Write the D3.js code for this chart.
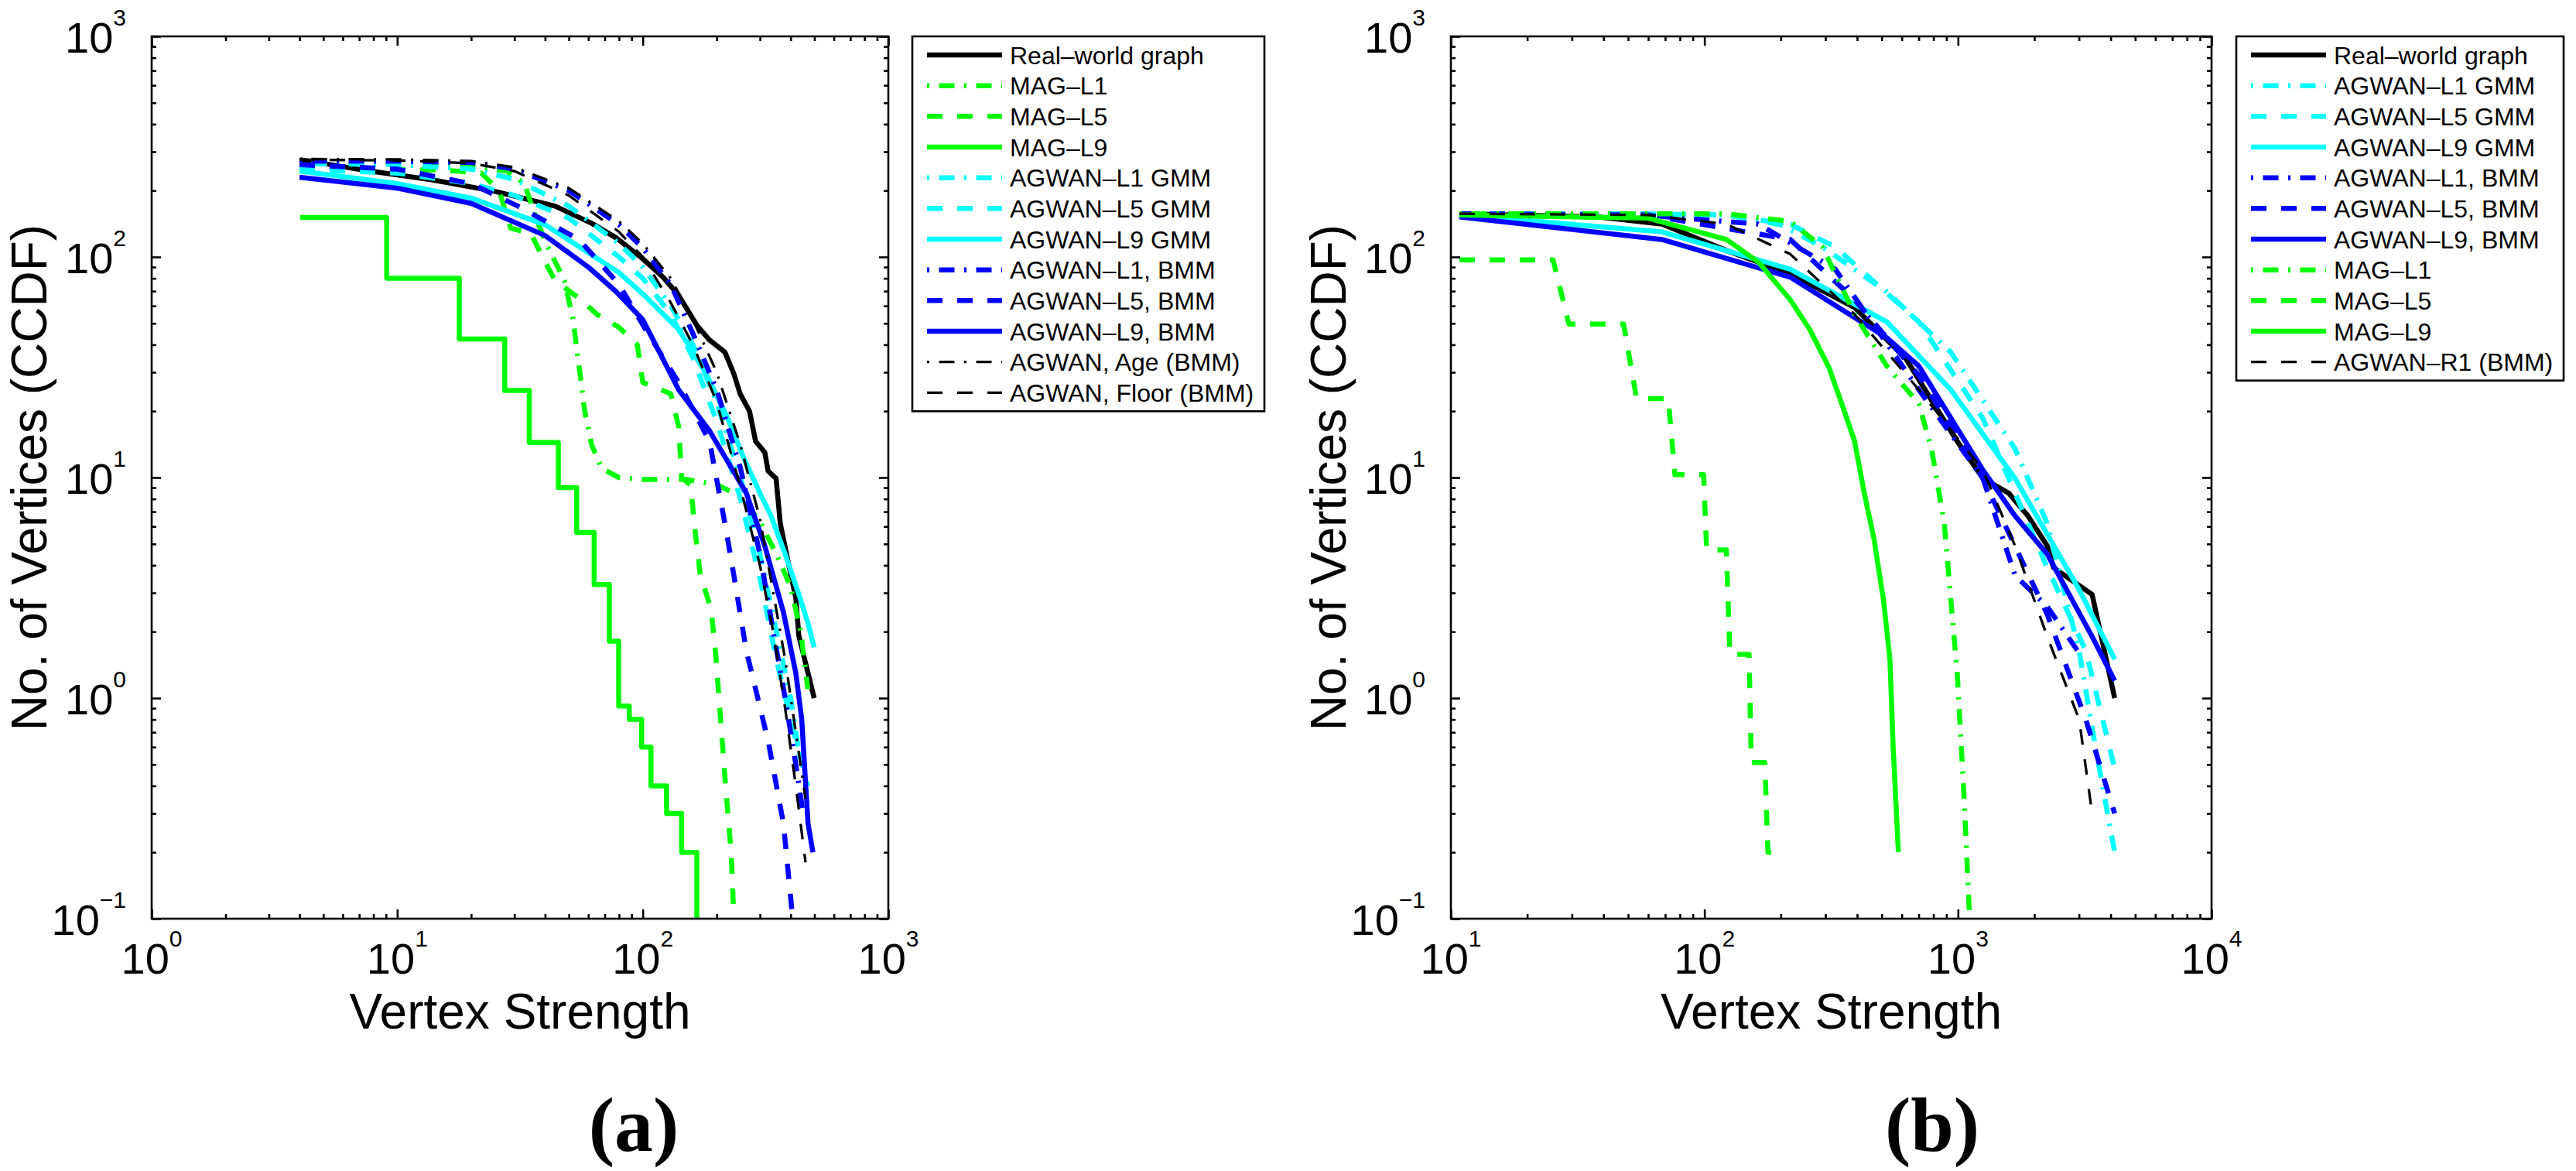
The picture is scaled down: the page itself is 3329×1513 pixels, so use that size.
<!DOCTYPE html>
<html>
<head>
<meta charset="utf-8">
<script src="https://cdn.jsdelivr.net/npm/d3@7"></script>
<style>
  body { margin: 0; background: #fff; }
  text { font-family: "Liberation Sans", Arial, Helvetica, sans-serif; fill: #000; }
  .tag { font-family: "Liberation Serif", "Times New Roman", serif; font-weight: bold; }
</style>
</head>
<body>
<svg id="fig"></svg>
<script>
// ---- data: [vertex strength, no. of vertices] ----

// panel (a)
var legendA = ["Real-world graph", "MAG-L1", "MAG-L5", "MAG-L9",
  "AGWAN-L1 GMM", "AGWAN-L5 GMM", "AGWAN-L9 GMM",
  "AGWAN-L1, BMM", "AGWAN-L5, BMM", "AGWAN-L9, BMM",
  "AGWAN, Age (BMM)", "AGWAN, Floor (BMM)"];

var a_real = [[4.03,276],[7.75,245],[13.8,224],[24.7,199],[44,170],[62,142],[78,122],[99,99],[121,81],[140,67],[166,49],[187,42],[216,37],[235,29.5],[249,24],[272,20],[288,14.6],[314,13],[324,10.7],[349,9.9],[363,6.2],[385,4.5],[420,2.84],[432,1.92],[499,1.0]];
var a_magL1 = [[4,268],[10,265],[20,258],[28,245],[33,215],[36,160],[40,118],[44,95],[48,78],[52,52],[55,32],[58,20],[62,14],[68,11],[80,10],[100,9.8],[150,9.8],[200,9.3],[250,8.2],[300,6.3],[350,4.5],[400,3.2],[440,2],[470,1.1]];
var a_magL5 = [[4,250],[15,248],[22,240],[26,200],[29,135],[35,128],[40,95],[44,78],[55,65],[65,55],[80,48],[95,40],[100,27],[130,24],[140,17],[144,10],[157,9.2],[162,6.2],[171,3.7],[190,2.5],[198,1.6],[216,0.44],[229,0.2],[236,0.09]];
var a_magL9 = [[4.03,151],[9.06,80],[17.9,42.5],[27.4,24.8],[34.5,14.4],[45.3,9.0],[53.8,5.63],[63.4,3.27],[73.1,1.81],[79.8,0.92],[88.1,0.8],[98.9,0.6],[108,0.4],[125,0.3],[144,0.2],[166,0.05]];
var a_gmmL1 = [[4,265],[10,262],[20,250],[30,225],[50,170],[80,115],[100,90],[130,60],[160,40],[200,22],[250,10],[300,4.5],[350,2],[400,1],[440,0.5]];
var a_gmmL5 = [[4,250],[10,240],[20,215],[30,190],[50,150],[80,100],[100,80],[130,55],[160,35],[200,18],[250,8],[300,3.5],[350,1.5],[400,0.8],[470,0.4]];
var a_gmmL9 = [[4,245],[10,215],[20,185],[40,140],[80,85],[100,68],[140,47],[180,30],[222,18.5],[260,12],[300,8.5],[333,6.7],[380,4.5],[430,3],[470,2.2],[499,1.7]];
var a_bmmL1 = [[4,272],[10,272],[20,268],[30,250],[50,200],[80,140],[100,110],[130,75],[160,45],[200,25],[250,11],[300,4.5],[340,2],[380,1],[420,0.5],[450,0.3]];
var a_bmmL5 = [[4,262],[10,250],[20,215],[31,170],[55,120],[80,75],[105,45],[140,27],[187,14.6],[216,6.2],[235,3.6],[264,1.64],[324,0.64],[374,0.27],[408,0.1]];
var a_bmmL9 = [[4,230],[10,205],[20,175],[40,125],[60,90],[78,69.5],[100,52],[140,25],[187,16.3],[264,8.5],[314,4.9],[374,2.45],[420,1.3],[444,0.8],[471,0.27],[493,0.2]];
var a_age = [[4,278],[10,277],[20,272],[30,255],[50,205],[80,145],[100,115],[130,80],[160,52],[200,30],[250,14],[300,6.5],[340,3],[380,1.5],[420,0.7],[460,0.35]];
var a_floor = [[4,276],[10,274],[20,266],[30,245],[50,190],[80,130],[100,100],[130,62],[160,40],[200,22],[250,9],[300,4],[340,2],[380,0.9],[420,0.4],[460,0.18]];

// panel (b)
var legendB = ["Real-world graph",
  "AGWAN-L1 GMM", "AGWAN-L5 GMM", "AGWAN-L9 GMM",
  "AGWAN-L1, BMM", "AGWAN-L5, BMM", "AGWAN-L9, BMM",
  "MAG-L1", "MAG-L5", "MAG-L9", "AGWAN-R1 (BMM)"];

var b_real = [[10.8,157],[38,152],[68,141],[122,107],[218,84],[391,59],[624,34.5],[787,22.4],[993,14.6],[1255,9.9],[1585,8.5],[1888,6.7],[2249,4.9],[2384,3.9],[3381,2.95],[4150,1.0]];
var b_gmmL1 = [[10.8,157],[50,157],[122,155],[200,140],[292,111],[524,69.5],[937,37],[1679,13.5],[2249,6.2],[3006,1.64],[3483,0.6],[4150,0.2]];
var b_gmmL5 = [[10.8,157],[50,157],[122,155],[220,140],[328,111],[701,50.8],[1255,18.5],[2249,3.9],[3192,1.64],[4150,0.48]];
var b_gmmL9 = [[10.8,155],[68,130],[218,88],[524,50.8],[937,25],[1679,9.9],[3006,3.1],[4150,1.5]];
var b_bmmL1 = [[10.8,157],[50,157],[163,141],[328,88],[701,25],[1255,9.9],[1679,3.6],[2249,2.6],[3006,1.6]];
var b_bmmL5 = [[10.8,157],[60,155],[218,120],[391,64],[701,29],[1255,9.9],[2249,2.4],[3192,0.8],[4150,0.3]];
var b_bmmL9 = [[10.8,152],[68,120],[218,81],[524,43],[701,32],[1255,10.8],[1679,6.7],[2249,4.5],[3381,1.9],[4150,1.2]];
var b_magL1 = [[10.8,157],[122,157],[218,145],[292,111],[391,55],[524,32],[701,21.6],[787,13.4],[883,6.2],[937,2.8],[993,1.3],[1050,0.41],[1112,0.1]];
var b_magL5 = [[10.8,97],[25.3,97],[29.2,49.6],[48,49.6],[54,22.8],[72,22.8],[76.5,10.3],[99.3,10.3],[102,4.7],[122,4.7],[126,1.58],[150,1.58],[153,0.51],[173,0.51],[178,0.2],[194,0.2]];
var b_magL9 = [[10.8,155],[60,150],[122,120],[163,95],[218,64],[260,47],[310,31.5],[348,21.6],[391,14.6],[427,8.5],[466,5.3],[508,2.8],[539,1.5],[555,0.6],[582,0.2]];
var b_r1 = [[10.8,157],[60,155],[122,141],[218,103],[391,55],[701,25],[1255,10.8],[1679,4.9],[2249,1.9],[3006,0.8],[3381,0.3]];

var xExpA = [0, 1, 2, 3];
var xExpB = [1, 2, 3, 4];
var yExp = [-1, 0, 1, 2, 3];

// ---- look of each series ----
var GREEN = "#00ff00", CYAN = "#00ffff", BLUE = "#0000ff", BLACK = "#000000";
var DASH = "20,19", DASHDOT = "3,12.5,20,12.5";
var THICK = 6.5, THIN = 3.3;

var styleOf = {
  "Real-world graph":   {c: BLACK, w: THICK, d: null},
  "MAG-L1":             {c: GREEN, w: THICK, d: DASHDOT},
  "MAG-L5":             {c: GREEN, w: THICK, d: DASH},
  "MAG-L9":             {c: GREEN, w: THICK, d: null},
  "AGWAN-L1 GMM":       {c: CYAN,  w: THICK, d: DASHDOT},
  "AGWAN-L5 GMM":       {c: CYAN,  w: THICK, d: DASH},
  "AGWAN-L9 GMM":       {c: CYAN,  w: THICK, d: null},
  "AGWAN-L1, BMM":      {c: BLUE,  w: THICK, d: DASHDOT},
  "AGWAN-L5, BMM":      {c: BLUE,  w: THICK, d: DASH},
  "AGWAN-L9, BMM":      {c: BLUE,  w: THICK, d: null},
  "AGWAN, Age (BMM)":   {c: BLACK, w: THIN,  d: DASHDOT},
  "AGWAN, Floor (BMM)": {c: BLACK, w: THIN,  d: DASH},
  "AGWAN-R1 (BMM)":     {c: BLACK, w: THIN,  d: DASH}
};

var W = 3329, H = 1513;
var svg = d3.select("#fig").attr("width", W).attr("height", H);
svg.append("rect").attr("width", W).attr("height", H).attr("fill", "#fff");

var panels = [
  {key: "a", box: [196, 47, 1148, 1187], xExp: xExpA, labels: legendA,
   data: [a_real, a_magL1, a_magL5, a_magL9, a_gmmL1, a_gmmL5, a_gmmL9, a_bmmL1, a_bmmL5, a_bmmL9, a_age, a_floor],
   steps: ["MAG-L9"], legend: [1179, 47, 1634], yTitleX: 60, tagX: 819},
  {key: "b", box: [1875, 47, 2858, 1187], xExp: xExpB, labels: legendB,
   data: [b_real, b_gmmL1, b_gmmL5, b_gmmL9, b_bmmL1, b_bmmL5, b_bmmL9, b_magL1, b_magL5, b_magL9, b_r1],
   steps: [], legend: [2890, 47, 3313], yTitleX: 1739, tagX: 2497}
];

function minorTicks(exps) {
  var out = [];
  for (var e = exps[0]; e < exps[exps.length - 1]; e++)
    for (var m = 2; m <= 9; m++) out.push(m * Math.pow(10, e));
  return out;
}

panels.forEach(function(p) {
  var L = p.box[0], T = p.box[1], R = p.box[2], B = p.box[3];
  var xs = p.xExp;
  var x = d3.scaleLog().domain([Math.pow(10, xs[0]), Math.pow(10, xs[xs.length - 1])]).range([L, R]);
  var y = d3.scaleLog().domain([Math.pow(10, yExp[0]), Math.pow(10, yExp[yExp.length - 1])]).range([B, T]);
  var xMajor = xs.map(function(e) { return Math.pow(10, e); });
  var yMajor = yExp.map(function(e) { return Math.pow(10, e); });

  var g = svg.append("g").attr("class", "panel-" + p.key);

  // curves, clipped to the axes box
  var clipId = "clip-" + p.key;
  svg.append("defs").append("clipPath").attr("id", clipId)
    .append("rect").attr("x", L).attr("y", T).attr("width", R - L).attr("height", B - T);

  var plot = g.append("g").attr("clip-path", "url(#" + clipId + ")");
  p.labels.forEach(function(name, i) {
    var s = styleOf[name];
    var line = d3.line()
      .x(function(d) { return x(d[0]); })
      .y(function(d) { return y(d[1]); })
      .curve(p.steps.indexOf(name) >= 0 ? d3.curveStepAfter : d3.curveLinear);
    plot.append("path")
      .datum(p.data[i])
      .attr("d", line)
      .attr("fill", "none")
      .attr("stroke", s.c)
      .attr("stroke-width", s.w)
      .attr("stroke-dasharray", s.d)
      .attr("stroke-linejoin", "round");
  });

  // inward ticks on all four sides
  function ticks(axisFn, scale, values, size, transform) {
    var a = g.append("g").attr("transform", transform)
      .call(axisFn(scale).tickValues(values).tickSize(-size).tickSizeOuter(0).tickFormat(""));
    a.select(".domain").remove();
    a.selectAll("line").attr("stroke", "#000").attr("stroke-width", 2.6);
  }
  ticks(d3.axisBottom, x, xMajor, 12, "translate(0," + B + ")");
  ticks(d3.axisBottom, x, minorTicks(xs), 6, "translate(0," + B + ")");
  ticks(d3.axisTop, x, xMajor, 12, "translate(0," + T + ")");
  ticks(d3.axisTop, x, minorTicks(xs), 6, "translate(0," + T + ")");
  ticks(d3.axisLeft, y, yMajor, 12, "translate(" + L + ",0)");
  ticks(d3.axisLeft, y, minorTicks(yExp), 6, "translate(" + L + ",0)");
  ticks(d3.axisRight, y, yMajor, 12, "translate(" + R + ",0)");
  ticks(d3.axisRight, y, minorTicks(yExp), 6, "translate(" + R + ",0)");

  g.append("rect").attr("x", L).attr("y", T).attr("width", R - L).attr("height", B - T)
    .attr("fill", "none").attr("stroke", "#000").attr("stroke-width", 2.6);

  // tick labels 10^n
  function powLabel(sel, e) {
    sel.append("tspan").attr("font-size", 56).text("10");
    sel.append("tspan").attr("font-size", 30).attr("dy", -35).text(e < 0 ? "\u2212" + (-e) : String(e));
  }
  xs.forEach(function(e) {
    var t = g.append("text").attr("x", x(Math.pow(10, e))).attr("y", B + 71).attr("text-anchor", "middle");
    powLabel(t, e);
  });
  yExp.forEach(function(e) {
    var t = g.append("text").attr("x", L - 33).attr("y", y(Math.pow(10, e)) + 21).attr("text-anchor", "end");
    powLabel(t, e);
  });

  // axis titles
  g.append("text").attr("x", (L + R) / 2).attr("y", 1329).attr("text-anchor", "middle")
    .attr("font-size", 64).text("Vertex Strength");
  g.append("text").attr("transform", "translate(" + p.yTitleX + "," + ((T + B) / 2) + ") rotate(-90)")
    .attr("text-anchor", "middle").attr("font-size", 64).text("No. of Vertices (CCDF)");

  // sub-figure tag
  g.append("text").attr("class", "tag").attr("x", p.tagX).attr("y", 1487)
    .attr("text-anchor", "middle").attr("font-size", 100).text("(" + p.key + ")");

  // legend
  var lx = p.legend[0], ly = p.legend[1], lr = p.legend[2];
  var rowH = 39.67, first = ly + 24;
  var lg = g.append("g");
  lg.append("rect").attr("x", lx).attr("y", ly).attr("width", lr - lx)
    .attr("height", first + (p.labels.length - 1) * rowH + 24 - ly)
    .attr("fill", "#fff").attr("stroke", "#000").attr("stroke-width", 2.6);
  p.labels.forEach(function(name, i) {
    var s = styleOf[name], cy = first + i * rowH;
    lg.append("line").attr("x1", lx + 19).attr("x2", lx + 116).attr("y1", cy).attr("y2", cy)
      .attr("stroke", s.c).attr("stroke-width", s.w).attr("stroke-dasharray", s.d);
    lg.append("text").attr("x", lx + 126).attr("y", cy + 11.5).attr("font-size", 32)
      .text(name.replace(/-/g, "\u2013"));
  });
});
</script>
</body>
</html>
